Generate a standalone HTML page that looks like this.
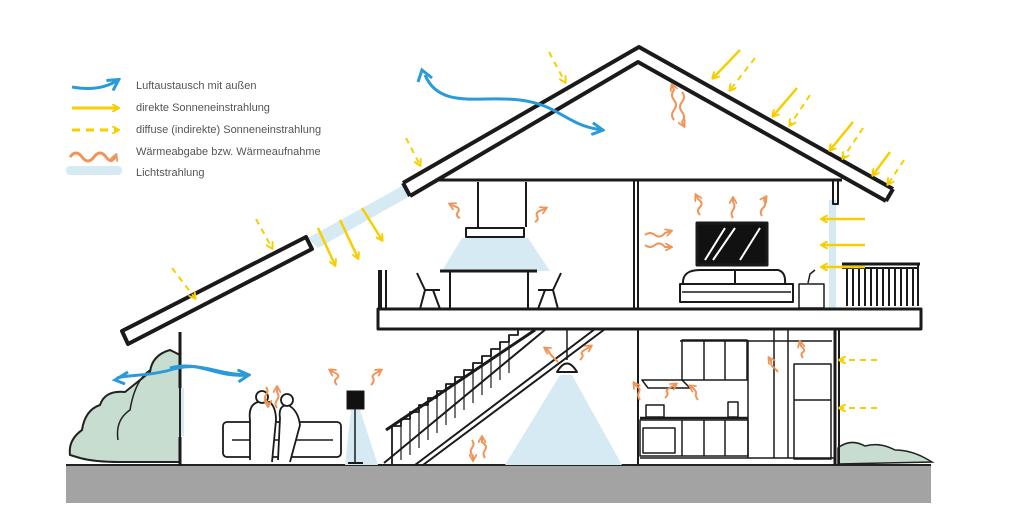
<!DOCTYPE html>
<html><head><meta charset="utf-8"><style>
html,body{margin:0;padding:0;background:#fff;}
svg{display:block;}
text{font-family:"Liberation Sans",sans-serif;font-size:11px;fill:#555;}
</style></head><body>
<svg width="1024" height="520" viewBox="0 0 1024 520" xmlns="http://www.w3.org/2000/svg">
<defs>
<marker id="ay" markerWidth="8" markerHeight="8" refX="6" refY="4" orient="auto" markerUnits="userSpaceOnUse"><path d="M0,0 L7,4 L0,8" fill="none" stroke="#f7cf00" stroke-width="2"/></marker>
<marker id="ab" markerWidth="14" markerHeight="14" refX="11" refY="7" orient="auto" markerUnits="userSpaceOnUse"><path d="M1,1 L12,7 L1,13" fill="none" stroke="#2a9ad8" stroke-width="3"/></marker>
<marker id="ao" markerWidth="8" markerHeight="8" refX="6" refY="4" orient="auto" markerUnits="userSpaceOnUse"><path d="M0,0 L7,4 L0,8" fill="none" stroke="#f0955a" stroke-width="1.8"/></marker>
</defs>

<!-- legend -->
<path d="M72,87 Q100,92 118,80" fill="none" stroke="#2a9ad8" stroke-width="3" marker-end="url(#ab)"/>
<line x1="72" y1="108" x2="118" y2="108" stroke="#f7cf00" stroke-width="3" marker-end="url(#ay)"/>
<line x1="72" y1="130" x2="118" y2="130" stroke="#f7cf00" stroke-width="3" stroke-dasharray="8,6" marker-end="url(#ay)"/>
<path d="M70,157 q6,-8 12,0 t12,0 t12,0 t10,-2" fill="none" stroke="#f0955a" stroke-width="3" marker-end="url(#ao)"/>
<rect x="66" y="166" width="56" height="9" rx="4" fill="#d6eaf3"/>
<text x="136" y="89">Luftaustausch mit außen</text>
<text x="136" y="111">direkte Sonneneinstrahlung</text>
<text x="136" y="133">diffuse (indirekte) Sonneneinstrahlung</text>
<text x="136" y="155">Wärmeabgabe bzw. Wärmeaufnahme</text>
<text x="136" y="176">Lichtstrahlung</text>

<!-- ground -->
<rect x="66" y="465" width="865" height="38" fill="#a3a3a3"/>
<line x1="66" y1="465" x2="931" y2="465" stroke="#222" stroke-width="2"/>

<!-- light beams -->
<g fill="#d6eaf3">
<polygon points="308,238 402,186 410,196 318,248"/>
<polygon points="462,238 528,238 550,271 442,271"/>
<polygon points="560,375 572,375 622,465 505,465"/>
<polygon points="351,410 360,410 378,465 345,465"/>
<rect x="178" y="388" width="6" height="48"/>
<rect x="829" y="200" width="7" height="110"/>
</g>

<!-- bushes -->
<path d="M70,455 Q68,440 82,430 Q85,410 100,405 Q105,390 125,392 Q140,380 150,372 Q152,355 170,350 L180,355 L180,462 L120,462 Q95,462 80,458 Z" fill="#c6ddcf" stroke="#222" stroke-width="2"/>
<path d="M118,440 Q115,420 130,410 Q135,380 150,370" fill="none" stroke="#222" stroke-width="1.5"/>
<path d="M838,448 Q850,438 865,446 Q880,442 895,450 Q910,450 925,458 L932,462 L838,464 Z" fill="#c6ddcf" stroke="#222" stroke-width="1.5"/>

<g stroke="#1a1a1a" fill="none" stroke-linejoin="round">
<!-- main roof -->
<path d="M403,183 L639,47 L893,189" stroke-width="4"/>
<path d="M410,196 L638,62 L886,201" stroke-width="4"/>
<line x1="403" y1="183" x2="410" y2="196" stroke-width="4"/>
<line x1="893" y1="189" x2="886" y2="201" stroke-width="4"/>
<!-- ceiling -->
<line x1="435" y1="180" x2="842" y2="180" stroke-width="3"/>
<!-- lower roof -->
<path d="M122,331 L306,237 L312,249 L128,344 Z" stroke-width="4"/>
<!-- left wall -->
<line x1="180" y1="332" x2="180" y2="388" stroke-width="3"/>
<line x1="180" y1="437" x2="180" y2="465" stroke-width="3"/>
<!-- floor slab -->
<rect x="378" y="309" width="543" height="20" stroke-width="3" fill="#fff"/>
<line x1="380" y1="270" x2="380" y2="309" stroke-width="4"/>
<line x1="386" y1="270" x2="386" y2="309" stroke-width="2"/>
<!-- upper partition -->
<line x1="634" y1="180" x2="634" y2="309" stroke-width="2"/>
<line x1="638" y1="180" x2="638" y2="309" stroke-width="2"/>
<rect x="833" y="180" width="5" height="24" stroke-width="2"/>
<!-- hood -->
<line x1="478" y1="182" x2="478" y2="227" stroke-width="2"/>
<line x1="526" y1="182" x2="526" y2="227" stroke-width="2"/>
<rect x="466" y="228" width="58" height="9" stroke-width="2"/>
<!-- table & chairs -->
<line x1="440" y1="271" x2="537" y2="271" stroke-width="3"/>
<line x1="450" y1="271" x2="450" y2="309" stroke-width="2"/>
<line x1="528" y1="271" x2="528" y2="309" stroke-width="2"/>
<path d="M417,273 L425,290 L440,290 M425,290 L420,309 M433,290 L440,309" stroke-width="2"/>
<path d="M561,273 L553,290 L538,290 M553,290 L558,309 M545,290 L538,309" stroke-width="2"/>
<!-- TV -->
<rect x="697" y="223" width="70" height="42" stroke-width="3" fill="#111"/>
<path d="M705,260 L725,228 M713,260 L735,228 M740,260 L760,228" stroke="#fff" stroke-width="2"/>
<!-- bed -->
<rect x="680" y="284" width="113" height="18" stroke-width="2" fill="#fff"/>
<path d="M683,284 Q682,270 700,270 L735,270 L735,284 M735,284 L735,270 L778,270 Q786,272 785,284" stroke-width="2"/>
<line x1="682" y1="292" x2="791" y2="292" stroke-width="1.5"/>
<rect x="799" y="284" width="25" height="24" stroke-width="1.5"/>
<path d="M808,283 L810,274 L815,270" stroke-width="1.5"/>
<!-- balcony -->
<line x1="842" y1="264" x2="920" y2="264" stroke-width="3"/>
<line x1="842" y1="268" x2="918" y2="268" stroke-width="2"/>
<path d="M847,268 V306 M853,268 V306 M859,268 V306 M865,268 V306 M871,268 V306 M877,268 V306 M883,268 V306 M889,268 V306 M895,268 V306 M901,268 V306 M907,268 V306 M913,268 V306 M918,264 V306" stroke-width="2"/>
<!-- stairs -->
<line x1="384" y1="463" x2="546" y2="329" stroke-width="2"/>
<line x1="386" y1="430" x2="535" y2="330" stroke-width="3"/>
<path d="M392,465 V426 H401 V419 H410 V412 H419 V405 H428 V398 H437 V391 H446 V384 H455 V377 H464 V370 H473 V363 H482 V356 H491 V349 H500 V342 H509 V335 H518 V329" stroke-width="1.8"/>
<path d="M401,419 V460 M410,412 V455 M419,405 V448 M428,398 V440 M437,391 V433 M446,384 V425 M455,377 V418 M464,370 V410 M473,363 V403 M482,356 V395 M491,349 V388 M500,342 V380 M509,335 V373" stroke-width="1.2"/>
<line x1="415" y1="465" x2="595" y2="329" stroke-width="2"/>
<line x1="423" y1="465" x2="605" y2="329" stroke-width="2"/>
<!-- pendant lamp -->
<line x1="567" y1="329" x2="567" y2="360" stroke-width="1.5"/>
<path d="M557,372 Q567,355 577,372 Z" stroke-width="2" fill="#fff"/>
<!-- walls ground floor -->
<line x1="638" y1="329" x2="638" y2="465" stroke-width="2"/>
<line x1="835" y1="329" x2="835" y2="465" stroke-width="3"/>
<line x1="839" y1="329" x2="839" y2="465" stroke-width="2"/>
<!-- kitchen -->
<rect x="682" y="340" width="65" height="40" stroke-width="1.5"/>
<line x1="704" y1="340" x2="704" y2="380" stroke-width="1.5"/>
<line x1="725" y1="340" x2="725" y2="380" stroke-width="1.5"/>
<path d="M642,380 H682 L690,388 H680 L662,388 L648,388 Z" stroke-width="1.5"/>
<line x1="640" y1="418" x2="748" y2="418" stroke-width="2.5"/>
<rect x="640" y="420" width="108" height="36" stroke-width="1.5"/>
<rect x="643" y="428" width="32" height="25" stroke-width="1.5"/>
<line x1="682" y1="420" x2="682" y2="456" stroke-width="1.5"/>
<line x1="704" y1="420" x2="704" y2="456" stroke-width="1.5"/>
<line x1="725" y1="420" x2="725" y2="456" stroke-width="1.5"/>
<rect x="646" y="405" width="18" height="12" stroke-width="1.5"/>
<rect x="728" y="402" width="10" height="15" stroke-width="1.5"/>
<line x1="748" y1="340" x2="748" y2="458" stroke-width="1.5"/>
<line x1="774" y1="329" x2="774" y2="458" stroke-width="1.5"/>
<line x1="788" y1="329" x2="788" y2="458" stroke-width="1.5"/>
<line x1="680" y1="341" x2="832" y2="341" stroke-width="1.5"/>
<rect x="794" y="364" width="37" height="95" stroke-width="1.5"/>
<line x1="794" y1="400" x2="831" y2="400" stroke-width="1.5"/>
<line x1="640" y1="458" x2="835" y2="458" stroke-width="1.5"/>
<!-- sofa & people -->
<rect x="223" y="422" width="118" height="35" rx="4" stroke-width="1.8" fill="#fff"/>
<line x1="232" y1="440" x2="333" y2="440" stroke-width="1.5"/>
<path d="M250,460 L250,420 Q248,405 258,402 L270,402 Q276,408 276,420 L272,462" stroke-width="1.8" fill="#fff"/>
<circle cx="262" cy="397" r="6" stroke-width="1.8" fill="#fff"/>
<path d="M278,460 L280,418 Q278,405 288,405 Q298,410 300,425 L290,462" stroke-width="1.8" fill="#fff"/>
<circle cx="287" cy="400" r="6" stroke-width="1.8" fill="#fff"/>
<!-- floor lamp -->
<rect x="347" y="391" width="17" height="18" fill="#111" stroke-width="1"/>
<line x1="355" y1="409" x2="355" y2="462" stroke-width="1.5"/>
<line x1="348" y1="463" x2="363" y2="463" stroke-width="2"/>
</g>

<!-- air flow -->
<path d="M250,375 C215,375 200,360 170,370 C150,376 125,375 117,378" fill="none" stroke="#2a9ad8" stroke-width="3"/>
<path d="M170,368 C200,360 215,378 248,375" fill="none" stroke="#2a9ad8" stroke-width="3" marker-end="url(#ab)"/>
<path d="M128,372 L115,380 L125,384" fill="none" stroke="#2a9ad8" stroke-width="3"/>
<path d="M425,75 C440,110 480,95 520,100 C560,105 565,125 602,130" fill="none" stroke="#2a9ad8" stroke-width="3" marker-end="url(#ab)"/>
<path d="M418,82 L422,70 L432,78" fill="none" stroke="#2a9ad8" stroke-width="3"/>

<!-- direct sun -->
<g stroke="#f7cf00" stroke-width="2.5" marker-end="url(#ay)">
<line x1="318" y1="228" x2="335" y2="265"/>
<line x1="340" y1="220" x2="358" y2="258"/>
<line x1="362" y1="208" x2="382" y2="240"/>
<line x1="740" y1="50" x2="713" y2="78"/>
<line x1="797" y1="88" x2="773" y2="116"/>
<line x1="853" y1="122" x2="830" y2="150"/>
<line x1="890" y1="152" x2="873" y2="175"/>
<line x1="865" y1="219" x2="822" y2="219"/>
<line x1="865" y1="245" x2="822" y2="245"/>
<line x1="865" y1="267" x2="822" y2="267"/>
</g>
<!-- diffuse sun -->
<g stroke="#f7cf00" stroke-width="2" stroke-dasharray="6,5" marker-end="url(#ay)" fill="none">
<line x1="549" y1="52" x2="565" y2="82"/>
<line x1="406" y1="138" x2="420" y2="165"/>
<line x1="256" y1="219" x2="272" y2="248"/>
<line x1="172" y1="268" x2="195" y2="298"/>
<line x1="755" y1="58" x2="730" y2="90"/>
<line x1="810" y1="95" x2="790" y2="125"/>
<line x1="863" y1="128" x2="843" y2="158"/>
<line x1="904" y1="160" x2="888" y2="184"/>
<line x1="877" y1="360" x2="840" y2="360"/>
<line x1="877" y1="408" x2="840" y2="408"/>
</g>

<!-- heat waves -->
<g stroke="#f0955a" stroke-width="2" fill="none" marker-end="url(#ao)">
<path d="M674,120 q-4,-5 0,-10 t0,-10 t0,-10 l-2,-5"/>
<path d="M682,92 q4,5 0,10 t0,10 t0,10 l2,4"/>
<path d="M460,218 q-5,-2 -2,-6 t-4,-6 l-4,-2"/>
<path d="M535,222 q4,-2 2,-6 t5,-6 l4,-2"/>
<path d="M700,215 q-4,-4 0,-8 t-2,-8 l-2,-4"/>
<path d="M733,218 q-3,-4 0,-8 t0,-8 l0,-4"/>
<path d="M762,216 q-3,-4 1,-8 t1,-8 l2,-3"/>
<path d="M645,235 q5,-4 10,0 t10,-2 l6,-2"/>
<path d="M645,245 q5,4 10,0 t10,2 l6,0"/>
<path d="M266,387 q3,4 0,8 t2,8 l0,3"/>
<path d="M277,408 q-3,-4 0,-8 t0,-8 l0,-5"/>
<path d="M337,385 q-4,-4 0,-7 t-4,-6 l-3,-2"/>
<path d="M371,385 q4,-4 2,-7 t5,-6 l3,-2"/>
<path d="M558,362 q-4,-4 -6,-6 t-4,-6 l-3,-2"/>
<path d="M580,360 q4,-4 2,-6 t6,-6 l3,-2"/>
<path d="M485,458 q-3,-4 0,-8 t-3,-8 l0,-5"/>
<path d="M472,440 q3,4 0,8 t1,8 l0,4"/>
<path d="M640,400 q-3,-4 -1,-8 t-3,-6 l-2,-3"/>
<path d="M665,398 q4,-4 2,-6 t6,-6 l3,-2"/>
<path d="M698,400 q-3,-4 -2,-6 t-3,-6 l-3,-2"/>
<path d="M778,372 q-3,-4 -5,-5 t-2,-6 l-2,-3"/>
<path d="M803,358 q-3,-4 0,-6 t-2,-6 l-1,-4"/>
</g>
</svg>
</body></html>
